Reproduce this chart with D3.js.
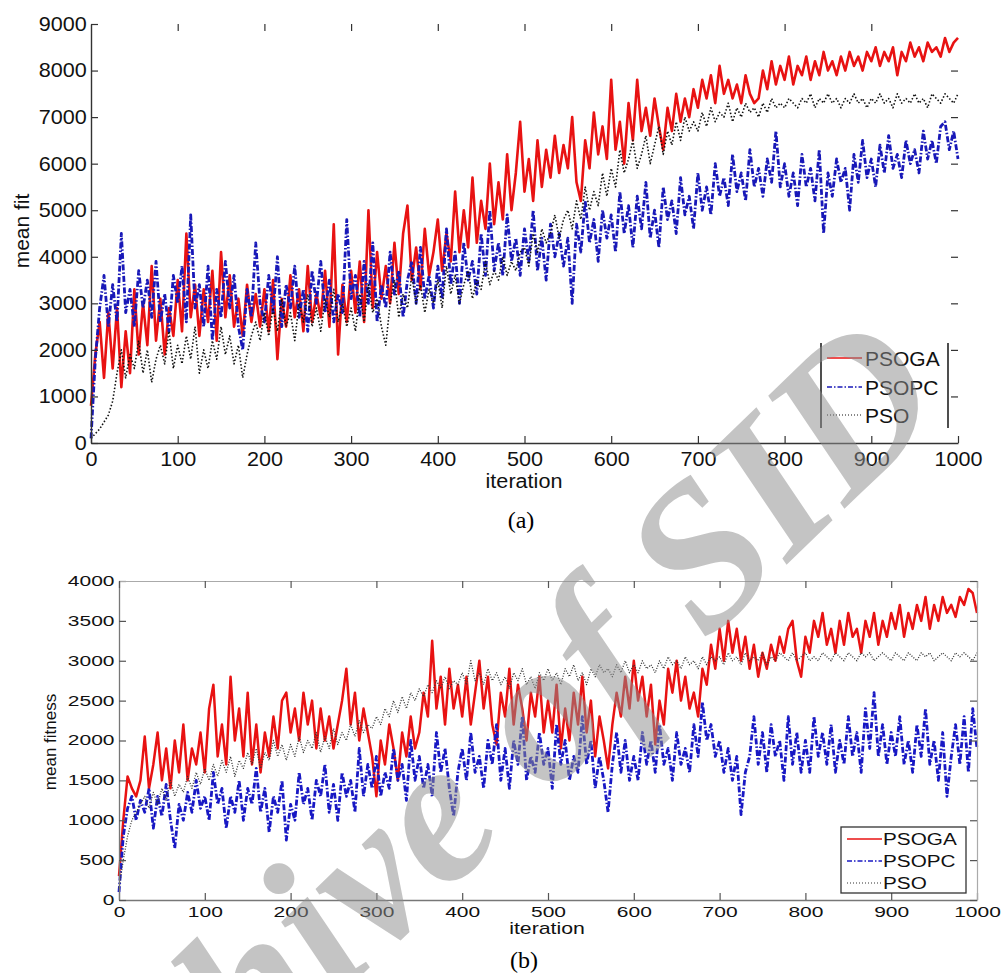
<!DOCTYPE html>
<html><head><meta charset="utf-8">
<script src="https://cdn.jsdelivr.net/npm/d3@7/dist/d3.min.js"></script>
<style>body{margin:0;background:#fff}svg{display:block}</style>
</head><body>
<svg id="c" width="1003" height="973"></svg>
<script>
// ---------- data ----------
const iterations = d3.range(0, 1001, 5);
const seriesNames = ["PSOGA", "PSOPC", "PSO"];
const xTicks = [0,100,200,300,400,500,600,700,800,900,1000];
const yTicksA = [0,1000,2000,3000,4000,5000,6000,7000,8000,9000];
const yTicksB = [0,500,1000,1500,2000,2500,3000,3500,4000];

// (a) mean fit
const psogaA = [800,1900,2600,1400,2800,1600,2900,1200,2400,1500,3300,1900,3000,2100,3800,2200,3100,1900,2900,2300,
3500,2400,4500,2700,3400,2300,3300,2600,3700,2200,4100,2700,3600,2500,3100,2300,3400,2600,3200,2500,
3300,2400,3500,1800,3100,2500,3600,2700,3300,2400,3800,2600,3200,2700,3700,2500,4700,1900,3400,2600,
3700,2800,3900,2600,5000,2900,4100,3100,3800,3000,4300,3200,4500,5100,3500,4200,3300,4600,3600,4100,
4800,3700,4500,3900,5400,4100,5000,4200,5700,4300,5200,4600,6000,4700,5600,4800,6200,5000,5800,6900,
5400,6100,5200,6500,5500,6300,5700,6600,5800,6400,5900,7000,5600,5200,6500,5900,7100,6200,6800,6100,
7800,6300,6900,6000,7300,6500,7800,6700,7200,6600,7400,6800,6300,7200,6700,7500,6900,7400,7000,7600,
7200,7800,7400,7900,7300,8100,7500,7800,7400,7700,7300,7900,7500,7300,7400,8000,7600,8200,7700,8100,
7800,8300,7700,8100,7900,8300,7800,8200,7900,8400,8000,8200,7900,8300,8000,8400,8100,8300,8000,8400,
8200,8500,8100,8400,8200,8500,7900,8400,8200,8600,8300,8500,8200,8600,8400,8500,8300,8700,8400,8600,
8700];
const psopcA = [100,1800,2900,3600,2500,3400,2600,4500,2800,3300,2500,3700,2900,3500,2700,3900,2600,3200,2400,3600,
3000,3800,2600,4900,2900,3400,2500,3800,2200,3300,2700,3900,2900,3600,2500,2000,3300,2700,4300,3000,
2600,3600,2800,4000,2500,3400,2900,3800,2700,3300,2400,3700,3000,3900,2800,3500,2600,3200,2800,4800,
3100,3600,2700,3900,3000,4300,2600,3400,2900,4100,3200,3700,2700,3500,3900,3000,4200,3100,3600,2900,
3800,3100,4600,3400,4100,3000,4300,3500,3900,3200,4500,3600,5000,3700,4300,3600,4900,3900,4400,3600,
4600,3900,5000,3700,4400,3500,4700,4000,4500,3800,4400,3000,4700,4100,5200,4300,4800,3900,5000,4400,
4900,4100,5400,4500,5100,4200,5300,4600,5600,4400,5000,4200,5500,4800,5200,4500,5700,4900,5300,4600,
5800,5000,5500,4900,6000,5300,5700,5100,6200,5400,5800,5200,6300,5500,5900,5300,6100,5600,6700,5500,
6000,5300,5800,5100,6200,5500,5900,5200,6300,4500,5800,5300,6100,5600,5900,5000,6200,5600,6500,5700,
6100,5500,6400,5800,6600,5900,6200,5700,6500,6000,6300,5800,6700,6100,6500,6000,6800,6900,6300,6700,
6100];
const psoA = [100,200,300,450,600,900,1500,2000,1400,1900,1600,2200,1500,2000,1300,1800,2100,1700,2400,1600,
2100,1700,2300,1800,2500,1500,2000,1600,2200,1800,2500,1900,2300,1700,2100,1400,1900,2300,2600,2200,
2800,2300,2900,2400,3100,2500,2800,2200,3000,2600,3200,2500,2900,2400,3100,2700,3300,2600,3000,2500,
2900,2400,3200,2600,3400,2800,3100,2500,2100,3000,3500,2700,3200,2900,3600,3000,3400,2800,3300,3000,
3500,2900,3800,3200,3600,3000,3400,3700,3100,3500,3300,3900,3400,3700,3500,4000,3600,3900,3700,4100,
4200,3800,4500,4100,4600,4300,4500,4900,4400,4800,5000,4600,5200,4800,5500,5000,5400,5100,5800,5300,
5900,5500,6300,5800,6100,6500,5900,6200,6600,6000,6400,6800,6200,6700,6400,6900,6500,7000,6700,6900,
6700,7100,6800,7200,6900,7100,7000,7300,6900,7200,7000,7300,7100,7200,7000,7300,7100,7400,7200,7300,
7200,7400,7300,7200,7400,7300,7500,7200,7400,7300,7500,7300,7400,7200,7400,7300,7500,7300,7400,7200,
7400,7300,7500,7300,7400,7200,7500,7300,7400,7300,7500,7300,7400,7200,7500,7400,7300,7500,7400,7300,
7500];

// (b) mean fitness
const psogaB = [300,1000,1550,1400,1300,1500,2050,1400,1700,2100,1500,1900,1400,2000,1600,2200,1500,1900,1700,2100,
1600,2400,2700,1800,2200,1700,2800,2000,2400,1800,2600,1700,2200,1600,2100,1800,2300,1900,2500,2600,
2100,2400,2000,2600,2200,2500,1900,2400,2000,2300,1900,2200,2500,2900,2200,2600,2000,2400,2100,1800,
1300,2000,1700,2200,1900,1500,2100,1800,2300,1900,2100,2600,2300,3250,2400,2800,2200,2900,2400,2700,
2300,2800,2200,2600,3000,2400,2800,2200,1950,2600,2300,2900,2200,2700,2400,2000,2600,2300,2800,2100,
2500,2100,2700,1900,2400,2000,2600,2200,2800,2100,2500,1800,2300,2000,1650,2200,2600,2300,2800,2400,
3000,2500,2800,2300,2700,1950,2500,2200,2900,2600,3000,2500,2800,2400,2600,2300,2900,2700,3200,2900,
3400,3000,3500,3100,3400,3000,3300,2900,3200,2800,3100,2900,3200,3000,3300,3100,3400,3500,3000,2800,
3300,3100,3500,3300,3600,3200,3400,3100,3500,3200,3600,3300,3400,3100,3500,3300,3600,3200,3500,3300,
3600,3400,3700,3300,3600,3400,3700,3500,3800,3400,3700,3500,3800,3600,3700,3550,3800,3700,3900,3850,
3600];
const psopcB = [100,800,1150,1300,1000,1250,1100,1400,900,1300,1050,1450,1000,650,1200,1000,1350,1100,1500,1150,
1300,1000,1600,1200,1400,900,1300,1100,1500,1000,1400,1200,1650,1100,1400,850,1300,1100,1500,750,
1200,1000,1600,1200,1400,1000,1500,1300,1700,1100,1450,1000,1600,1300,1500,1100,1900,1300,1700,1400,
1800,1300,1600,1400,1900,1500,1700,1250,2000,1500,1800,1400,1700,1300,2100,1600,1900,1400,1050,1600,
1900,1500,2100,1600,1800,1400,2000,1700,2200,1500,1900,1400,2000,1700,2300,1500,1800,1600,2100,1700,
1900,1400,2200,1700,2000,1500,1800,1600,2300,1700,2000,1400,1800,1500,1100,1700,2100,1600,2000,1500,
1800,1500,2100,1700,2000,1600,2200,1700,1900,1500,2100,1700,1900,1600,2200,1800,2480,2000,2200,1800,
2000,1600,1900,1500,1800,1070,1600,1800,2300,1700,2100,1600,2200,1800,2000,1500,2300,1700,2100,1600,
2000,1600,2300,1800,2100,1700,2200,1600,2000,1700,2300,1800,2100,1600,2400,1900,2600,1800,2200,1700,
2100,1800,2300,1700,2000,1600,2200,1800,2400,1700,2000,1500,2100,1300,1800,2200,1700,2300,1600,2400,
1900];
const psoB = [150,500,800,1000,1100,1200,1300,1150,1350,1200,1400,1250,1500,1300,1450,1350,1550,1400,1600,1450,
1650,1500,1700,1550,1750,1600,1800,1550,1750,1650,1850,1700,1900,1650,1850,1750,2000,1800,1950,1750,
1950,1800,2050,1850,2000,1900,2100,1850,2050,1900,2150,1950,2100,2000,2200,2050,2250,2100,2200,2150,
2300,2200,2400,2300,2500,2350,2550,2400,2600,2500,2650,2550,2700,2600,2750,2650,2800,2650,2750,2700,
2850,2700,3000,2750,2850,2700,2900,2750,2850,2700,2800,2650,2850,2750,2900,2700,2800,2650,2850,2750,
2900,2750,2850,2700,2900,2800,2950,2750,2850,2700,2900,2800,2950,2850,2900,2800,2950,2850,3000,2850,
2950,2850,3000,2900,2950,2850,3000,2900,3050,2950,3000,2900,3050,2950,3000,2900,3050,2950,3050,3000,
3050,2950,3100,3000,3050,2950,3100,3000,3050,3000,3100,2950,3050,3000,3100,3050,3000,3100,3000,3050,
3100,3000,3050,3000,3100,3050,3000,3100,3050,3000,3100,3050,3000,3100,3050,3100,3000,3050,3100,3050,
3000,3100,3050,3000,3100,3050,3000,3100,3050,3100,3000,3050,3100,3050,3000,3100,3050,3100,3050,3000,
3100];

// ---------- drawing ----------
const svg = d3.select("#c");
const SANS = "Liberation Sans, Arial, Helvetica, sans-serif";
const SERIF = "Liberation Serif, Times New Roman, serif";

const stylesA = [
  {color:"#e81212", width:2.6, dash:null},
  {color:"#1818b8", width:2.8, dash:"6,2,1.5,2"},
  {color:"#111111", width:1.6, dash:"1.5,2"}
];
const stylesB = [
  {color:"#e81212", width:2.5, dash:null},
  {color:"#1818c4", width:2.8, dash:"6,2,1.5,2"},
  {color:"#333333", width:1.3, dash:"1,1.6"}
];

function stretch(sel, sx){ sel.attr("transform", `scale(${sx},1)`); }

function panel(o){
  const styles = o.styles;
  const g = svg.append("g");
  const x = d3.scaleLinear().domain([0,1000]).range([o.x0,o.x1]);
  const y = d3.scaleLinear().domain([0,o.ymax]).range([o.y0,o.y1]);

  // lines
  const line = d3.line().x((d,i)=>x(iterations[i])).y(d=>y(d));
  o.series.forEach((s,k)=>{
    g.append("path").datum(s).attr("d",line).attr("fill","none")
      .attr("stroke",styles[k].color).attr("stroke-width",styles[k].width)
      .attr("stroke-dasharray",styles[k].dash).attr("stroke-linejoin","round");
  });

  // axes
  const fmt = d3.format("d");
  const bx = g.append("g").attr("transform",`translate(0,${o.y0})`)
    .call(d3.axisBottom(x).tickValues(xTicks).tickSizeInner(-o.tick).tickSizeOuter(0).tickPadding(o.padX).tickFormat(fmt));
  const ly = g.append("g").attr("transform",`translate(${o.x0},0)`)
    .call(d3.axisLeft(y).tickValues(o.yTicks).tickSizeInner(-o.tick).tickSizeOuter(0).tickPadding(o.padY).tickFormat(fmt));
  const tx = g.append("g").attr("transform",`translate(0,${o.y1})`)
    .call(d3.axisTop(x).tickValues(xTicks).tickSizeInner(-o.tick).tickSizeOuter(0).tickFormat(""));
  const ry = g.append("g").attr("transform",`translate(${o.x1},0)`)
    .call(d3.axisRight(y).tickValues(o.yTicks).tickSizeInner(-o.tick).tickSizeOuter(0).tickFormat(""));
  [bx,ly].forEach(a=>{
    a.select(".domain").attr("stroke",o.axisColor).attr("stroke-width",o.axisW);
    a.selectAll(".tick line").attr("stroke",o.tickColor).attr("stroke-width",1.2);
    a.selectAll("text").attr("font-family",SANS).attr("font-size",o.fs).attr("fill","#111")
      .call(stretch,o.sx);
  });
  [tx,ry].forEach(a=>{
    if(o.box) a.select(".domain").attr("stroke",o.boxColor).attr("stroke-width",1.2);
    else a.select(".domain").remove();
    a.selectAll(".tick line").attr("stroke",o.tickColor).attr("stroke-width",1.2);
  });
  if(!o.box){
    ry.selectAll(".tick").filter(d=>d===0||d===o.ymax).remove();
    tx.selectAll(".tick").filter(d=>d===0||d===1000).remove();
  }

  // axis titles
  g.append("text").attr("transform",`translate(${o.ylab[0]},${o.ylab[1]}) rotate(-90) scale(${o.ylab[3]},1)`)
    .attr("text-anchor","middle").attr("dy","0.35em").attr("font-family",SANS).attr("font-size",o.ylab[2])
    .attr("fill","#111").text(o.ylabel);
  g.append("text").attr("transform",`translate(${o.xlab[0]},${o.xlab[1]}) scale(${o.xlab[3]},1)`)
    .attr("text-anchor","middle").attr("dy","0.35em").attr("font-family",SANS).attr("font-size",o.xlab[2])
    .attr("fill","#111").text("iteration");
  g.append("text").attr("x",o.cap[0]).attr("y",o.cap[1]).attr("text-anchor","middle")
    .attr("font-family",SERIF).attr("font-size",24).attr("fill","#000").text(o.caption);

  // legend
  const L = o.leg;
  const lg = g.append("g");
  if(L.box){
    lg.append("rect").attr("x",L.x).attr("y",L.y).attr("width",L.w).attr("height",L.h)
      .attr("fill","#fff").attr("stroke","#333").attr("stroke-width",1.3);
  } else {
    [L.x, L.x+L.w].forEach(xx=>lg.append("line").attr("x1",xx).attr("x2",xx)
      .attr("y1",L.y).attr("y2",L.y+L.h).attr("stroke","#222").attr("stroke-width",1.6));
  }
  seriesNames.forEach((n,k)=>{
    const yy = L.rows[k];
    lg.append("line").attr("x1",L.lx0).attr("x2",L.lx1).attr("y1",yy).attr("y2",yy)
      .attr("stroke",styles[k].color).attr("stroke-width",k===2?1.2:1.5)
      .attr("stroke-dasharray",k===1?"5,2,1.5,2":(k===2?"1,2":null));
    lg.append("text").attr("transform",`translate(${L.tx},${yy}) scale(${L.sx},1)`)
      .attr("dy","0.36em").attr("font-family",SANS).attr("font-size",L.fs).attr("fill","#111").text(n);
  });
}

panel({
  x0:91, x1:958, y0:443, y1:24, ymax:9000, yTicks:yTicksA, styles:stylesA,
  series:[psogaA, psopcA, psoA], tick:7, padX:9, padY:4, fs:20, sx:1.08,
  axisColor:"#333", axisW:1.4, tickColor:"#333", box:false,
  ylabel:"mean fit", ylab:[22,231,21,1], xlab:[524,481,21,1.03],
  caption:"(a)", cap:[521,528],
  leg:{box:false, x:821, y:343, w:127, h:85, rows:[358,387,415], lx0:827, lx1:862, tx:865, fs:21, sx:1.0}
});

panel({
  x0:119, x1:977, y0:900, y1:581, ymax:4000, yTicks:yTicksB, styles:stylesB,
  series:[psogaB, psopcB, psoB], tick:7, padX:7, padY:3, fs:14, sx:1.5,
  axisColor:"#777", axisW:1.3, tickColor:"#555", box:true, boxColor:"#aaa",
  ylabel:"mean fitness", ylab:[50,742,17,1], xlab:[547,928,16,1.33],
  caption:"(b)", cap:[524,968],
  leg:{box:true, x:841, y:827, w:125, h:66, rows:[839,861,883], lx0:847, lx1:882, tx:883, fs:17, sx:1.22}
});

// watermark
svg.append("text").attr("transform","translate(952,405) rotate(-44)")
  .attr("text-anchor","end").attr("font-family",SERIF).attr("font-weight","bold").attr("font-style","italic")
  .attr("font-size",205).attr("fill","#8e8e8e").attr("fill-opacity",0.52).text("Archive of SID");
</script>
</body></html>
